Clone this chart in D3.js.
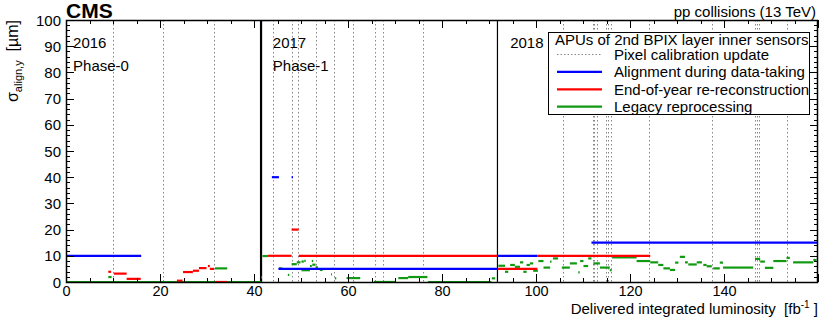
<!DOCTYPE html>
<html>
<head>
<meta charset="utf-8">
<script src="https://cdn.jsdelivr.net/npm/d3@7"></script>
<style>
  body { margin: 0; background: #fff; }
  text { font-family: "Liberation Sans", Arial, Helvetica, sans-serif; fill: #000; white-space: pre; }
</style>
</head>
<body>
<div id="chart"></div>
<script>
var svgWidth = 830;
var svgHeight = 321;

var margin = { top: 20, right: 12, bottom: 39, left: 66 };
var width = svgWidth - margin.left - margin.right;
var height = svgHeight - margin.top - margin.bottom;

// ---- data: segments are [lumiStart, lumiEnd, sigma] ----
var yearBounds = [41.5, 91.8];
var yearLabels = [["2016", "Phase-0", 1.5], ["2017", "Phase-1", 44.0], ["2018", "", 94.5]];

var calibUpdates = [10.1, 20.6, 31.5, 44.1, 48.0, 49.4, 53.1, 57.1, 61.1, 65.7, 67.4, 75.9,
  105.8, 112.1, 112.4, 112.9, 114.9, 115.4, 115.9, 124.1, 137.5, 146.6, 147.0, 147.4, 153.3];

var alignData = [
  [0, 16.0, 10], [41.7, 43.5, 100], [43.8, 45.3, 40], [48.0, 48.3, 40],
  [45.2, 91.8, 5], [91.8, 100.3, 10], [111.8, 160, 15]
];

var eoyData = [
  [9.0, 9.6, 3.9], [10.2, 12.9, 3.2], [12.9, 15.9, 1.2], [23.6, 24.8, 0.5],
  [24.9, 27.0, 3.8], [27.0, 28.3, 4.3], [28.3, 29.9, 5.3], [30.2, 30.6, 6.1],
  [30.6, 31.5, 5.0], [31.9, 34.3, 0],
  [43.0, 48.0, 10], [48.0, 49.5, 20], [49.5, 91.8, 10],
  [91.8, 100.3, 5], [100.3, 124.3, 10]
];

var legacyData = [
  [0, 41.5, 0], [9.0, 9.7, 1.9], [31.7, 34.3, 5.2],
  [41.5, 41.7, 1.8], [41.8, 43.0, 9.9], [45.3, 46.0, 5.2], [47.2, 47.5, 2.7],
  [48.0, 49.1, 6.8], [49.1, 49.9, 7.5], [50.1, 51.9, 4.5], [50.1, 50.6, 7.8],
  [50.7, 51.0, 8.1], [51.9, 52.3, 6.1], [52.3, 52.6, 8.0], [52.4, 53.1, 6.6],
  [53.1, 53.6, 5.6], [54.0, 54.6, 4.6], [56.4, 56.6, 2.9], [56.7, 57.0, 5.0],
  [57.2, 57.5, 1.4], [59.7, 62.6, 1.5], [70.7, 72.8, 1.5], [72.8, 76.9, 1.9],
  [90.6, 91.3, 1.4], [65.5, 70.0, 0], [77.0, 90.5, 0],
  [92.0, 93.4, 6.2], [93.4, 94.1, 3.9], [94.5, 95.5, 6.5], [95.5, 96.6, 5.8],
  [96.6, 97.3, 7.5], [97.3, 98.0, 3.9], [98.0, 98.7, 6.5], [98.7, 99.4, 7.1],
  [99.4, 100.4, 4.3], [100.5, 101.6, 8.0], [101.6, 103.0, 5.5], [103.0, 103.3, 7.8],
  [103.6, 104.7, 9.0], [105.5, 107.2, 5.5], [107.2, 108.7, 7.1], [109.0, 109.3, 3.7],
  [109.4, 110.1, 8.0], [110.1, 111.1, 6.1], [111.1, 111.8, 9.0], [112.2, 113.6, 7.1],
  [113.6, 115.7, 5.5], [115.7, 116.1, 4.5], [116.2, 121.4, 9.4], [121.4, 124.3, 8.0],
  [124.3, 126.0, 7.5], [126.0, 127.1, 6.5], [127.1, 128.5, 5.2], [128.5, 129.6, 4.6],
  [129.6, 130.3, 7.4], [130.6, 131.7, 9.6], [131.7, 132.3, 7.5], [132.4, 134.2, 6.7],
  [134.2, 135.3, 7.5], [135.6, 136.3, 6.5], [136.3, 137.4, 6.0], [137.7, 139.1, 5.2],
  [139.1, 139.8, 7.4], [139.8, 146.2, 5.5], [146.6, 147.7, 8.8], [147.7, 148.7, 7.8],
  [148.7, 150.5, 5.4], [150.5, 153.3, 8.0], [153.3, 154.0, 9.2], [154.7, 159.0, 7.5],
  [159.0, 159.7, 8.4]
];

var xTickValues = [0, 20, 40, 60, 80, 100, 120, 140];
var yTickValues = [0, 10, 20, 30, 40, 50, 60, 70, 80, 90, 100];

var legendTitle = "APUs of 2nd BPIX layer inner sensors";
var legendEntries = [
  ["Pixel calibration update", "calib"],
  ["Alignment during data-taking", "align"],
  ["End-of-year re-reconstruction", "eoy"],
  ["Legacy reprocessing", "legacy"]
];

var colors = { calib: "#888", align: "#0000ff", eoy: "#ff0000", legacy: "#119911" };

// ---- svg ----
var svg = d3.select("#chart")
  .append("svg")
  .attr("width", svgWidth)
  .attr("height", svgHeight);

var chartGroup = svg.append("g")
  .attr("transform", `translate(${margin.left}, ${margin.top})`);

var xScale = d3.scaleLinear().domain([0, 160]).range([0, width]);
var yScale = d3.scaleLinear().domain([0, 100]).range([height, 0]);

svg.append("defs").append("clipPath").attr("id", "plotclip")
  .append("rect").attr("x", 0).attr("y", 0).attr("width", width).attr("height", height);

var plot = chartGroup.append("g").attr("clip-path", "url(#plotclip)");

// pixel calibration updates
plot.selectAll("line.calib")
  .data(calibUpdates)
  .enter()
  .append("line")
  .attr("class", "calib")
  .attr("x1", d => Math.round(xScale(d)) + 0.5)
  .attr("x2", d => Math.round(xScale(d)) + 0.5)
  .attr("y1", 0)
  .attr("y2", height)
  .attr("stroke", colors.calib)
  .attr("stroke-width", 1)
  .attr("stroke-dasharray", "1.5,2.5");

// year boundaries
plot.selectAll("line.year")
  .data(yearBounds)
  .enter()
  .append("line")
  .attr("x1", d => xScale(d))
  .attr("x2", d => xScale(d))
  .attr("y1", 0)
  .attr("y2", height)
  .attr("stroke", "#000")
  .attr("stroke-width", (d, i) => i === 0 ? 2.2 : 1.2);

function drawSegments(data, color) {
  plot.append("g").selectAll("line")
    .data(data)
    .enter()
    .append("line")
    .attr("x1", d => xScale(d[0]))
    .attr("x2", d => xScale(d[1]))
    .attr("y1", d => yScale(d[2]))
    .attr("y2", d => yScale(d[2]))
    .attr("stroke", color)
    .attr("stroke-width", 2.2);
}

drawSegments(legacyData, colors.legacy);
drawSegments(eoyData, colors.eoy);
drawSegments(alignData, colors.align);

// ---- axes (ROOT style, ticks inside on all four sides) ----
var xMinor = d3.range(0, 160.01, 5);
var yMinor = d3.range(0, 100.01, 2);

var bottomAxis = d3.axisBottom(xScale).tickValues(xTickValues).tickSize(0).tickPadding(4).tickFormat(d3.format("d"));
var leftAxis = d3.axisLeft(yScale).tickValues(yTickValues).tickSize(0).tickPadding(5).tickFormat(d3.format("d"));

var xAxisG = chartGroup.append("g")
  .attr("transform", `translate(0, ${height})`)
  .call(bottomAxis);
xAxisG.select(".domain").remove();
xAxisG.selectAll("text").attr("font-size", "14.5px").attr("font-family", "Liberation Sans, Arial, sans-serif");

var yAxisG = chartGroup.append("g").call(leftAxis);
yAxisG.select(".domain").remove();
yAxisG.selectAll("text").attr("font-size", "15px").attr("font-family", "Liberation Sans, Arial, sans-serif").attr("dy", "0.34em");

var ticks = chartGroup.append("g").attr("stroke", "#000").attr("stroke-width", 1);
xMinor.forEach(function(v) {
  var len = (v % 20 === 0) ? 8 : 4;
  var x = Math.round(xScale(v)) + 0.5;
  ticks.append("line").attr("x1", x).attr("x2", x).attr("y1", height).attr("y2", height - len);
  ticks.append("line").attr("x1", x).attr("x2", x).attr("y1", 0).attr("y2", len);
});
yMinor.forEach(function(v) {
  var len = (v % 10 === 0) ? 8 : 4;
  var y = Math.round(yScale(v)) + 0.5;
  ticks.append("line").attr("x1", 0).attr("x2", len).attr("y1", y).attr("y2", y);
  ticks.append("line").attr("x1", width).attr("x2", width - len).attr("y1", y).attr("y2", y);
});

// frame
chartGroup.append("rect")
  .attr("x", 0.5).attr("y", 0.5)
  .attr("width", width - 1).attr("height", height)
  .attr("fill", "none")
  .attr("stroke", "#000")
  .attr("stroke-width", 1.5);

// year labels
yearLabels.forEach(function(d) {
  chartGroup.append("text")
    .attr("x", xScale(d[2])).attr("y", 28)
    .attr("font-size", "15px")
    .text(d[0]);
  if (d[1]) {
    chartGroup.append("text")
      .attr("x", xScale(d[2])).attr("y", 50.5)
      .attr("font-size", "15px")
      .text(d[1]);
  }
});

// ---- titles ----
svg.append("text")
  .attr("x", 66).attr("y", 18)
  .attr("font-size", "21px")
  .attr("font-weight", "bold")
  .text("CMS");

svg.append("text")
  .attr("x", 816).attr("y", 17)
  .attr("text-anchor", "end")
  .attr("font-size", "15px")
  .text("pp collisions (13 TeV)");

var xTitle = svg.append("text")
  .attr("x", 818).attr("y", 314)
  .attr("text-anchor", "end")
  .attr("font-size", "15px");
xTitle.append("tspan").text("Delivered integrated luminosity  [fb");
xTitle.append("tspan").attr("font-size", "10px").attr("dy", "-6").text("-1");
xTitle.append("tspan").attr("dy", "6").text(" ]");

var yTitle = svg.append("text")
  .attr("transform", "translate(18, 20) rotate(-90)")
  .attr("text-anchor", "end")
  .attr("font-size", "16px");
yTitle.append("tspan").text("σ");
yTitle.append("tspan").attr("font-size", "11px").attr("dy", "4").text("align,y");
yTitle.append("tspan").attr("dy", "-4").text("  [µm]");

// ---- legend ----
var legend = svg.append("g");
legend.append("rect")
  .attr("x", 548.5).attr("y", 32.5)
  .attr("width", 261).attr("height", 82)
  .attr("fill", "#fff")
  .attr("stroke", "#000")
  .attr("stroke-width", 1);

legend.append("text")
  .attr("x", 555).attr("y", 44.5)
  .attr("font-size", "15px")
  .text(legendTitle);

legendEntries.forEach(function(e, i) {
  var cy = 54.5 + i * 17.4;
  var l = legend.append("line")
    .attr("x1", 557).attr("x2", 602)
    .attr("y1", cy).attr("y2", cy)
    .attr("stroke", colors[e[1]]);
  if (e[1] === "calib") {
    l.attr("stroke-width", 1).attr("stroke-dasharray", "1.5,2");
  } else {
    l.attr("stroke-width", 2.2);
  }
  legend.append("text")
    .attr("x", 614).attr("y", cy + 5.5)
    .attr("font-size", "15px")
    .text(e[0]);
});
</script>
</body>
</html>
